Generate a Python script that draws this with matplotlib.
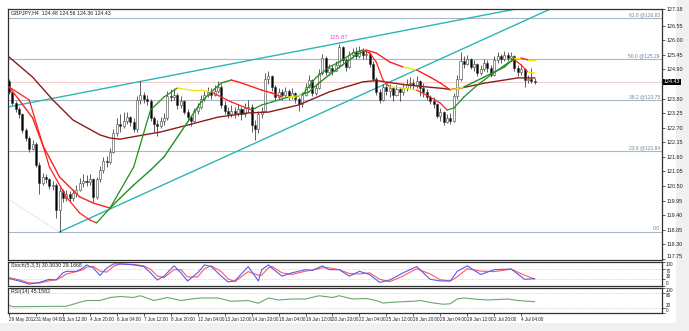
import matplotlib
matplotlib.use('Agg')
import matplotlib.pyplot as plt
from matplotlib.patches import Rectangle

plt.rcParams['font.family'] = ['Liberation Sans Narrow', 'Liberation Sans', 'DejaVu Sans']

# GBPJPY H4 bars from 29 May 2012 20:00 to 4 Jul 2012 (open of a bar = previous close)
first_open = 124.45
closes = [124.05, 123.62, 123.40, 123.20, 122.61, 122.30, 121.90, 122.10, 121.30, 120.62,
          120.85, 120.75, 120.50, 120.55, 119.60, 120.30, 120.05, 120.20, 120.05, 120.25,
          120.35, 120.60, 120.70, 120.65, 120.75, 120.10, 120.75, 121.10, 121.45, 121.40,
          121.80, 122.50, 122.85, 122.75, 122.95, 123.10, 122.90, 122.65, 123.75, 123.95,
          123.80, 123.70, 123.05, 122.85, 122.75, 122.95, 123.05, 123.90, 123.85, 123.95,
          123.55, 123.70, 123.30, 123.10, 122.95, 123.35, 123.50, 123.80, 123.95, 124.05,
          123.95, 124.10, 124.25, 123.55, 123.35, 123.20, 123.35, 123.25, 123.40, 123.20,
          123.45, 123.50, 122.80, 122.65, 123.20, 123.35, 124.55, 124.65, 124.25, 123.85,
          124.05, 123.95, 124.10, 123.90, 124.00, 123.80, 123.60, 123.95, 124.25, 124.50,
          124.00, 124.20, 124.75, 125.35, 124.80, 124.95, 124.85, 125.05, 125.75, 125.25,
          125.00, 125.45, 125.55, 125.40, 125.60, 125.45, 125.50, 125.10, 124.55, 124.05,
          123.75, 124.25, 124.10, 124.20, 123.95, 124.15, 124.05, 124.20, 124.35, 124.40,
          124.30, 124.45, 124.20, 124.05, 123.85, 123.70, 123.60, 123.15, 123.30, 122.90,
          123.05, 122.95, 123.90, 124.55, 125.20, 125.10, 125.30, 125.00, 125.10, 124.75,
          124.90, 125.15, 124.95, 124.70, 125.25, 125.40, 125.30, 125.45, 125.35, 125.40,
          124.95, 124.80, 124.90, 124.50, 124.55, 124.48, 124.43]
highs = [124.55, 124.10, 123.70, 123.50, 123.25, 122.70, 122.40, 122.25, 122.15, 121.40,
         121.00, 120.95, 120.80, 120.70, 120.60, 120.45, 120.40, 120.35, 120.30, 120.40,
         120.55, 120.80, 120.95, 120.90, 120.95, 120.80, 120.85, 121.25, 121.60, 121.65,
         121.95, 122.65, 123.05, 123.20, 123.30, 123.30, 123.15, 123.05, 123.90, 124.45,
         124.05, 123.95, 123.80, 123.15, 123.00, 123.10, 123.25, 124.10, 124.15, 124.20,
         124.00, 123.90, 123.75, 123.40, 123.15, 123.45, 123.65, 123.95, 124.10, 124.25,
         124.20, 124.30, 124.45, 124.35, 123.70, 123.50, 123.55, 123.50, 123.60, 123.50,
         123.65, 123.75, 123.60, 123.00, 123.35, 123.50, 124.75, 124.85, 124.70, 124.30,
         124.20, 124.15, 124.25, 124.15, 124.20, 124.05, 123.85, 124.05, 124.40, 124.70,
         124.55, 124.35, 124.90, 125.50, 125.40, 125.10, 125.05, 125.20, 125.87, 125.80,
         125.35, 125.60, 125.70, 125.75, 125.80, 125.70, 125.65, 125.55, 125.20, 124.60,
         124.15, 124.35, 124.35, 124.35, 124.25, 124.30, 124.25, 124.40, 124.55, 124.60,
         124.55, 124.65, 124.50, 124.40, 124.15, 123.95, 123.85, 123.65, 123.45, 123.35,
         123.20, 123.25, 124.00, 124.70, 125.55, 125.40, 125.45, 125.35, 125.25, 125.15,
         125.05, 125.30, 125.25, 125.05, 125.40, 125.55, 125.50, 125.60, 125.55, 125.55,
         125.45, 125.05, 125.05, 124.95, 124.70, 124.95, 124.56]
lows = [123.98, 123.55, 123.30, 123.05, 122.50, 122.20, 121.80, 121.85, 121.20, 120.20,
        120.55, 120.60, 120.40, 120.35, 119.30, 118.77, 119.90, 119.95, 119.90, 119.95,
        120.10, 120.30, 120.45, 120.50, 120.55, 119.90, 120.00, 120.65, 121.00, 121.20,
        121.35, 121.75, 122.40, 122.55, 122.70, 122.85, 122.75, 122.55, 122.55, 123.60,
        123.65, 123.55, 122.95, 122.55, 122.40, 122.70, 122.80, 123.00, 123.70, 123.75,
        123.40, 123.45, 123.20, 122.95, 122.75, 122.90, 123.20, 123.40, 123.70, 123.85,
        123.80, 123.90, 124.00, 123.45, 123.20, 123.05, 123.10, 123.05, 123.15, 123.00,
        123.10, 123.30, 122.55, 122.25, 122.50, 123.05, 123.30, 124.35, 124.10, 123.75,
        123.80, 123.75, 123.85, 123.75, 123.80, 123.65, 123.35, 123.50, 123.90, 124.20,
        123.90, 123.95, 124.15, 124.70, 124.70, 124.75, 124.70, 124.85, 124.95, 125.15,
        124.85, 124.95, 125.35, 125.30, 125.35, 125.30, 125.30, 125.00, 124.45, 123.95,
        123.65, 123.70, 123.95, 123.85, 123.70, 123.90, 123.70, 123.95, 124.10, 124.20,
        124.15, 124.20, 123.90, 123.85, 123.75, 123.60, 123.45, 123.05, 122.95, 122.80,
        122.88, 122.85, 122.90, 123.80, 124.45, 124.95, 125.05, 124.90, 124.85, 124.65,
        124.70, 124.85, 124.80, 124.60, 124.65, 125.15, 125.15, 125.20, 125.20, 125.25,
        124.85, 124.65, 124.70, 124.25, 124.40, 124.40, 124.36]
opens = [first_open] + closes[:-1]

# moving averages (bar, value)
slow_ma_bars = [0, 3, 7, 10, 15, 21, 25, 30, 33, 37, 42, 46, 50, 54, 57, 60, 63, 66, 69, 75,
                78, 81, 85, 89, 92, 95, 99, 103, 106, 109, 113, 117, 121, 125, 128, 131, 135,
                141, 147, 150, 152, 154, 156]
slow_ma = [124.24, 123.75, 123.07, 122.05, 120.84, 120.09, 119.86, 119.67, 120.05, 120.54,
           121.10, 121.60, 122.35, 123.10, 123.67, 124.05, 124.39, 124.50, 124.39, 124.12,
           124.01, 123.86, 123.86, 124.05, 124.39, 124.69, 125.07, 125.44, 125.63, 125.52,
           125.18, 124.99, 124.88, 124.61, 124.39, 124.12, 124.24, 124.61, 124.99, 125.33,
           125.33, 125.26, 125.26]
fast_ma_bars = [0, 6, 12, 17, 21, 24, 26, 30, 37, 42, 46, 50, 54, 57, 60, 66, 72, 75, 78, 83,
                87, 91, 95, 98, 102, 105, 107, 109, 111, 113, 117, 121, 125, 128, 130, 132,
                135, 139, 143, 148, 150, 152, 154, 156]
fast_ma = [124.24, 123.75, 121.22, 120.09, 119.48, 119.22, 119.11, 119.67, 121.22, 123.37,
           123.86, 124.20, 124.12, 124.12, 124.05, 123.67, 123.37, 123.56, 123.67, 123.86,
           123.93, 124.58, 124.99, 125.18, 125.52, 125.63, 125.52, 125.18, 124.50, 124.24,
           124.20, 124.12, 123.86, 123.63, 123.37, 123.44, 123.86, 124.31, 124.69, 125.14,
           125.26, 125.07, 124.80, 124.76]
long_ma_bars = [0, 7, 13, 19, 27, 30, 33, 40, 45, 53, 62, 71, 77, 86, 95, 105, 109, 117, 123,
                129, 131, 135, 141, 147, 151, 156]
long_ma = [125.37, 124.61, 123.75, 122.99, 122.43, 122.31, 122.27, 122.43, 122.54, 122.80,
           123.10, 123.26, 123.29, 123.56, 124.05, 124.43, 124.48, 124.33, 124.25, 124.18,
           124.14, 124.22, 124.38, 124.50, 124.58, 124.58]

# Fibonacci levels and trend lines
fib_labels = ['61.8 @126.83', '50.0 @125.29', '38.2 @123.75', '23.6 @121.84', '0.0']
fib_levels = [126.83, 125.29, 123.75, 121.84, 118.77]
upper_trend = [(0, 123.49), (150, 127.17)]
lower_trend = [(15, 118.77), (200, 129.45)]
fib_diag = [(-2, 120.14), (15, 118.77)]

# Stochastic (5,3,3)
stoch_bars = [0, 3, 6, 9, 12, 14, 16, 17, 20, 22, 23, 25, 27, 29, 31, 33, 37, 40, 42, 44,
              46, 49, 51, 53, 56, 58, 60, 63, 65, 67, 71, 74, 75, 77, 78, 81, 84, 88, 90, 93,
              95, 98, 101, 104, 107, 110, 113, 117, 121, 125, 128, 131, 133, 136, 140, 144,
              149, 153, 156]
stoch_main = [31, 21, 8, 15, 28, 25, 55, 61, 61, 75, 88, 75, 44, 75, 92, 92, 88, 81, 55, 25,
              41, 84, 55, 21, 55, 88, 81, 41, 17, 21, 81, 21, 68, 88, 75, 41, 55, 68, 65, 84,
              68, 68, 41, 61, 48, 15, 25, 55, 81, 28, 21, 21, 61, 84, 48, 68, 71, 28, 30.3]
stoch_signal = [35, 26, 13, 12, 22, 26, 40, 50, 60, 68, 78, 82, 62, 58, 82, 92, 90, 84, 70, 42,
                35, 68, 68, 38, 38, 72, 84, 60, 30, 18, 60, 45, 45, 76, 82, 55, 48, 62, 66, 76,
                76, 68, 52, 50, 55, 28, 18, 42, 72, 50, 26, 21, 38, 72, 62, 60, 70, 45, 29.2]

# RSI(14)
rsi_bars = [0, 1, 17, 20, 23, 27, 30, 33, 37, 39, 43, 47, 51, 54, 57, 62, 65, 66, 71, 74, 77,
            80, 84, 88, 92, 96, 98, 102, 106, 109, 111, 115, 120, 122, 126, 129, 131, 133,
            135, 138, 142, 148, 151, 156]
rsi = [31, 25, 27, 39, 50, 50, 62, 66, 62, 69, 50, 62, 50, 56, 60, 60, 50, 47, 50, 39, 60,
       52, 56, 56, 69, 62, 69, 56, 58, 50, 40, 44, 47, 50, 40, 35, 37, 56, 60, 56, 52, 56,
       50, 45.16]

tick_bars = list(range(0, 153, 8))
tick_labels = ['29 May 2012', '31 May 04:00', '1 Jun 12:00', '4 Jun 20:00', '6 Jun 04:00',
               '7 Jun 12:00', '8 Jun 20:00', '12 Jun 04:00', '13 Jun 12:00', '14 Jun 20:00',
               '18 Jun 04:00', '19 Jun 12:00', '20 Jun 20:00', '22 Jun 04:00', '25 Jun 12:00',
               '26 Jun 20:00', '28 Jun 04:00', '29 Jun 12:00', '2 Jul 20:00', '4 Jul 04:00']
# the 124.35 mark sits under the last-price tag, so it is left out
price_ticks = [117.75, 118.30, 118.85, 119.40, 119.95, 120.50, 121.05, 121.60, 122.15, 122.70,
               123.25, 123.80, 124.90, 125.45, 126.00, 126.55, 127.18]
last_price = 124.43

W, H = 689, 331


def box(l, t, r, b):
    return [l / W, 1 - b / H, (r - l) / W, (b - t) / H]


fig = plt.figure(figsize=(W / 100, H / 100), dpi=100, facecolor='#f0f0f0')
fig.patches.append(Rectangle((0, 1 - 323 / H), 676 / W, 323 / H, transform=fig.transFigure,
                             facecolor='white', edgecolor='none', zorder=-10))

ax = fig.add_axes(box(8, 9, 662, 260))
ax_st = fig.add_axes(box(8, 262, 662, 286), sharex=ax)
ax_rsi = fig.add_axes(box(8, 288, 662, 313), sharex=ax)

FS = 3.9
for a in (ax, ax_st, ax_rsi):
    a.set_facecolor('white')
    for s in a.spines.values():
        s.set_color('#303030')
        s.set_linewidth(0.9)
    a.yaxis.tick_right()
    a.tick_params(axis='y', length=2, width=0.5, pad=1, labelsize=FS, colors='#202020')
    a.tick_params(axis='x', length=0, labelbottom=False)

ax.set_xlim(-0.3, 193.8)
ax.set_ylim(117.71, 127.18)

# fibonacci grid
for lab, lv in zip(fib_labels, fib_levels):
    ax.axhline(lv, color='#aab8c6', lw=0.8, zorder=1)
    ax.text(193.2, lv + 0.02, lab, ha='right', va='bottom', fontsize=3.6, color='#6f86a3')
ax.axhline(last_price, color='#f2c4c4', lw=0.6, zorder=1)

# trend lines
ax.axline(upper_trend[0], upper_trend[1], color='#2bb6b6', lw=1.0, zorder=2)
ax.plot([p[0] for p in lower_trend], [p[1] for p in lower_trend], color='#2bb6b6', lw=1.0, zorder=2)
ax.plot([p[0] for p in fib_diag], [p[1] for p in fib_diag], color='#b0b0b0', lw=0.5, ls=':', zorder=2)

# candles
for i, (o, h, l, c) in enumerate(zip(opens, highs, lows, closes)):
    ax.vlines(i, l, h, color='#202020', lw=0.5, zorder=3)
    up = c >= o
    ax.add_patch(Rectangle((i - 0.3, min(o, c)), 0.6, max(abs(c - o), 0.015),
                           facecolor='white' if up else 'black', edgecolor='#404040',
                           lw=0.4, zorder=4))

ax.plot(long_ma_bars, long_ma, color='#8b1c1c', lw=1.0, zorder=5)


def trend_colored(bars, vals, lw):
    for k in range(len(bars) - 1):
        slope = (vals[k + 1] - vals[k]) / (bars[k + 1] - bars[k])
        if slope > 0.03:
            col = '#1f8f1f'
        elif slope < -0.03:
            col = '#ff2020'
        else:
            col = '#f2e600'
        ax.plot(bars[k:k + 2], vals[k:k + 2], color=col, lw=lw, zorder=6,
                solid_capstyle='round')


trend_colored(slow_ma_bars, slow_ma, 1.0)
trend_colored(fast_ma_bars, fast_ma, 0.9)

ax.text(98, 126.02, '125.87', ha='center', va='bottom', fontsize=4.4, color='#ee44ee')
ax.text(0.005, 0.993, 'GBPJPY,H4  124.48 124.56 124.36 124.43', transform=ax.transAxes,
        ha='left', va='top', fontsize=3.8, color='#202020')

ax.set_yticks(price_ticks)
ax.set_yticklabels(['%.2f' % v for v in price_ticks])
ax.get_yticklabels()[0].set_va('bottom')
ax.text(1.003, last_price, '%.2f' % last_price, transform=ax.get_yaxis_transform(),
        ha='left', va='center', fontsize=FS, color='white', zorder=10,
        bbox=dict(boxstyle='square,pad=0.15', facecolor='black', edgecolor='none'))

# stochastic
ax_st.set_ylim(0, 100)
for lv in (70, 30):
    ax_st.axhline(lv, color='#b8b8b8', lw=0.5, ls=(0, (1, 1.5)))
ax_st.plot(stoch_bars, stoch_signal, color='#ff5a5a', lw=0.8)
ax_st.plot(stoch_bars, stoch_main, color='#5a5af0', lw=0.8)
ax_st.set_yticks([0, 30, 70, 100])
ax_st.set_yticklabels(['0', '30', '70', '100'])
ax_st.text(0.005, 0.96, 'Stoch(5,3,3) 30.3030 29.1668', transform=ax_st.transAxes,
           ha='left', va='top', fontsize=3.8, color='#202020')

# RSI
ax_rsi.set_ylim(0, 100)
for lv in (80, 20):
    ax_rsi.axhline(lv, color='#b8b8b8', lw=0.5, ls=(0, (1, 1.5)))
ax_rsi.plot(rsi_bars, rsi, color='#6aa86a', lw=0.8)
ax_rsi.set_yticks([0, 20, 80, 100])
ax_rsi.set_yticklabels(['0', '20', '80', '100'])
ax_rsi.text(0.005, 0.96, 'RSI(14) 45.1582', transform=ax_rsi.transAxes,
            ha='left', va='top', fontsize=3.8, color='#202020')

# small panels: upper labels hang down, lower labels sit up
for a in (ax_st, ax_rsi):
    a.tick_params(axis='y', labelsize=3.3)
    labs = a.get_yticklabels()
    labs[0].set_va('bottom')
    labs[1].set_va('bottom')
    labs[2].set_va('top')
    labs[3].set_va('top')

ax_rsi.set_xticks(tick_bars)
ax_rsi.set_xticklabels(tick_labels, ha='left')
ax_rsi.tick_params(axis='x', length=2, width=0.5, pad=1, labelsize=3.3, labelbottom=True,
                   colors='#202020')

fig.savefig('out.png', dpi=100, facecolor=fig.get_facecolor())
